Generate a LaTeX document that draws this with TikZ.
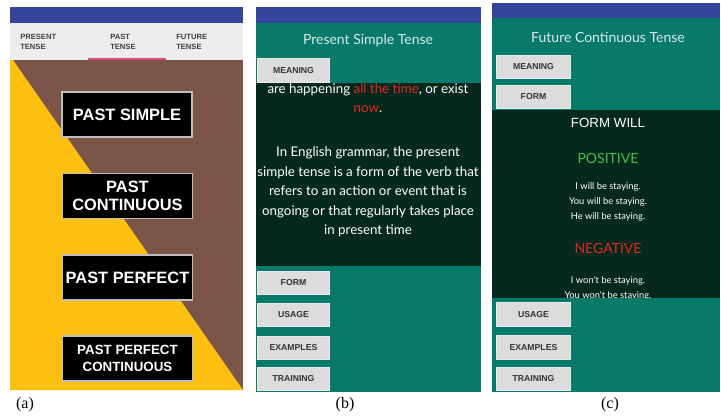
\documentclass[tikz,border=0pt]{standalone}
\usepackage{fontspec}
\setmainfont{Liberation Serif}
\newfontfamily\appfont{Lato}
\newfontfamily\btnfont{Liberation Sans}
\definecolor{topblue}{HTML}{34459B}
\definecolor{tabgray}{HTML}{EDEDED}
\definecolor{tabpink}{HTML}{D94F7C}
\definecolor{appbrown}{HTML}{7A5548}
\definecolor{appyellow}{HTML}{FDC010}
\definecolor{appteal}{HTML}{087A6A}
\definecolor{appdark}{HTML}{06291E}
\definecolor{btngray}{HTML}{DCDCDC}
\definecolor{appred}{HTML}{E0281F}
\definecolor{appgreen}{HTML}{3CC24A}
\tikzset{
  blackbtn/.style={draw=black!25, line width=1.2pt, fill=black, text=white,
    minimum width=97.5pt, minimum height=33.5pt, inner sep=0pt, align=center,
    font=\btnfont\bfseries\fontsize{12.3}{13.5}\selectfont},
  graybtn/.style={draw=black!8, line width=0.8pt, fill=btngray, text=black!80,
    minimum width=53.5pt, minimum height=17.5pt, inner sep=0pt,
    font=\btnfont\bfseries\fontsize{6.5}{7}\selectfont},
  tabtxt/.style={anchor=west, align=left, inner sep=0pt, text=black!75,
    font=\btnfont\bfseries\fontsize{5.7}{7}\selectfont},
  apptxt/.style={inner sep=0pt, text=white, align=center},
  sublabel/.style={inner sep=0pt, font=\fontsize{12}{14}\selectfont}
}
\begin{document}
\begin{tikzpicture}[x=0.75pt,y=-0.75pt]
\useasboundingbox (0,0) rectangle (721,418);
\fill[white] (0,0) rectangle (721,418);

% ---------- panel (a)
\fill[topblue] (10,7) rectangle (243,23);
\fill[tabgray] (10,23) rectangle (243,60);
\fill[tabpink] (88,57.5) rectangle (166,60);
\fill[appbrown] (10,60) rectangle (243,390);
\fill[appyellow] (10,60) -- (13,60) -- (243,390) -- (10,390) -- cycle;
\node[tabtxt] (t1) at (20,42) {PRESENT\\TENSE};
\node[tabtxt] (t2) at (110,42) {PAST\\TENSE};
\node[tabtxt] (t3) at (176,42) {FUTURE\\TENSE};
\node[blackbtn] (a1) at (127,114.5) {PAST SIMPLE};
\node[blackbtn] (a2) at (127.5,196) {PAST\\CONTINUOUS};
\node[blackbtn] (a3) at (127.5,277.5) {PAST PERFECT};
\node[blackbtn, font=\btnfont\bfseries\fontsize{10}{12.5}\selectfont] (a4) at (127.5,358.5) {PAST PERFECT\\CONTINUOUS};
\node[sublabel] (la) at (25,405) {(a)};

% ---------- panel (b)
\fill[topblue] (256,7) rectangle (481,23);
\fill[appdark] (256,83) rectangle (481,266);
\node[apptxt, font=\appfont\fontsize{10}{14.6}\selectfont] (b0) at (368,98)
  {are happening \textcolor{appred}{all the time}, or exist\\\textcolor{appred}{now}.};
\fill[appteal] (256,23) rectangle (481,83);
\fill[appteal] (256,266) rectangle (481,392);
\node[apptxt, text=white!85!appteal, font=\appfont\fontsize{10.5}{12}\selectfont] (bt) at (368,41) {Present Simple Tense};
\node[apptxt, font=\appfont\fontsize{10}{14.6}\selectfont] (bp) at (368,192)
  {In English grammar, the present\\simple tense is a form of the verb that\\refers to an action or event that is\\ongoing or that regularly takes place\\in present time};
\node[graybtn] (b1) at (293.5,70.5) {MEANING};
\node[graybtn] (b2) at (293.5,283) {FORM};
\node[graybtn] (b3) at (293.5,315) {USAGE};
\node[graybtn] (b4) at (293.5,348) {EXAMPLES};
\node[graybtn] (b5) at (293.5,379) {TRAINING};
\node[sublabel] (lb) at (345,405) {(b)};

% ---------- panel (c)
\fill[topblue] (492,3) rectangle (720,18);
\fill[appteal] (492,18) rectangle (720,110);
\fill[appdark] (492,110) rectangle (720,298);
\node[apptxt, font=\appfont\fontsize{7}{11.25}\selectfont] (cn) at (608,288)
  {I won't be staying.\\You won't be staying.};
\fill[appteal] (492,298) rectangle (720,392);
\node[apptxt, text=white!85!appteal, font=\appfont\fontsize{10.5}{12}\selectfont] (ct) at (608,37) {Future Continuous Tense};
\node[apptxt, font=\btnfont\fontsize{10}{12}\selectfont] (cf) at (608,123) {FORM WILL};
\node[apptxt, text=appgreen, font=\appfont\fontsize{10.5}{12}\selectfont] (cpos) at (608,158) {POSITIVE};
\node[apptxt, font=\appfont\fontsize{7}{11.25}\selectfont] (cp) at (608,202)
  {I will be staying.\\You will be staying.\\He will be staying.};
\node[apptxt, text=appred, font=\appfont\fontsize{10.5}{12}\selectfont] (cneg) at (608,248) {NEGATIVE};
\node[graybtn, minimum width=55pt] (c1) at (533.5,67) {MEANING};
\node[graybtn, minimum width=55pt] (c2) at (533.5,97) {FORM};
\node[graybtn, minimum width=55pt] (c3) at (533.5,314.5) {USAGE};
\node[graybtn, minimum width=55pt] (c4) at (533.5,347.5) {EXAMPLES};
\node[graybtn, minimum width=55pt] (c5) at (533.5,379) {TRAINING};
\node[sublabel] (lc) at (610,405) {(c)};
\end{tikzpicture}
\end{document}
